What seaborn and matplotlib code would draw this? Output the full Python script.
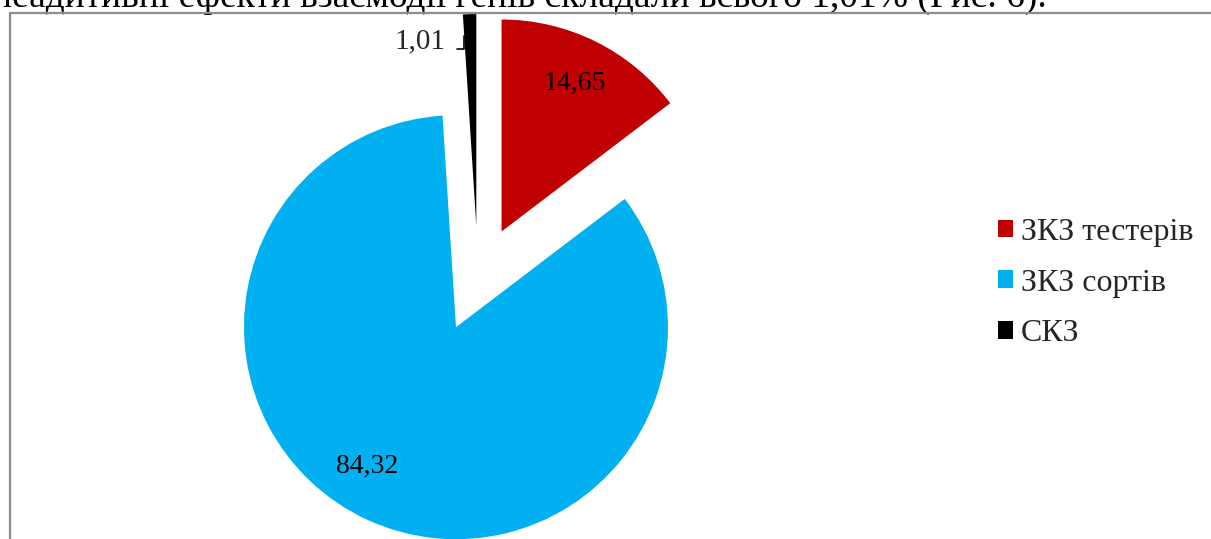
import matplotlib
matplotlib.use("Agg")
import matplotlib.pyplot as plt
import seaborn as sns
from matplotlib.patches import Rectangle
import numpy as np

# дані діаграми
categories = ['ЗКЗ тестерів', 'ЗКЗ сортів', 'СКЗ']
values = [14.65, 84.32, 1.01]
colors = ['#C00000', '#00B0F0', '#000000']
caption = 'неадитивні ефекти взаємодії генів складали всього 1,01% (Рис. 6).'

sns.set_theme(style='white')
plt.rcParams['font.family'] = ['Liberation Serif', 'DejaVu Serif']

W, H, DPI = 1211, 539, 100
fig = plt.figure(figsize=(W / DPI, H / DPI), dpi=DPI)
ax = fig.add_axes([0, 0, 1, 1])

R = 212.0              # радіус круга, px
cx, cy = 478.0, 279.0  # центр круга, px від верхнього лівого кута

vals = iter(values)
wedges, texts, autotexts = ax.pie(
    values, colors=sns.color_palette(colors), startangle=90, counterclock=False,
    explode=[0.25] * len(values), radius=1, center=(0, 0),
    autopct=lambda p: f'{next(vals):.2f}'.replace('.', ','),
    pctdistance=0.78, textprops=dict(fontsize=20, color='black'),
    wedgeprops=dict(linewidth=0))

ax.set_xlim(-cx / R, (W - cx) / R)
ax.set_ylim(-(H - cy) / R, cy / R)
ax.set_aspect('auto')
ax.axis('off')

# підпис синього сектора трохи зміщений, як в Excel
bw = wedges[1]
ang = np.deg2rad((bw.theta1 + bw.theta2) / 2 - 8)
autotexts[1].set_position((bw.center[0] + 0.78 * np.cos(ang), bw.center[1] + 0.78 * np.sin(ang)))

# підпис малого сектора винесено назовні з лінією-виноскою
kw = wedges[2]
edge = np.deg2rad(max(kw.theta1, kw.theta2))
xy = (kw.center[0] + 0.9 * np.cos(edge), kw.center[1] + 0.9 * np.sin(edge))
label = autotexts[2].get_text()
autotexts[2].set_visible(False)
ax.annotate(label, xy=xy, xytext=(-19, -13), textcoords='offset pixels',
            ha='right', va='baseline', fontsize=21,
            arrowprops=dict(arrowstyle='-', color='black', lw=1.2,
                            connectionstyle='angle,angleA=0,angleB=90,rad=0',
                            relpos=(1, 0.2), shrinkA=6, shrinkB=0))

leg = fig.legend(wedges, categories, loc='center left',
                 bbox_to_anchor=(998 / W, 1 - 283 / H), frameon=False,
                 fontsize=23, handlelength=0.47, handleheight=0.47,
                 handletextpad=0.25, labelspacing=0.68, borderpad=0, borderaxespad=0)

# рамка області діаграми
fig.add_artist(Rectangle((10.5 / W, -0.1), 1.2, 1.1 - 13 / H, transform=fig.transFigure,
                         fill=False, edgecolor='#8c8c8c', linewidth=1.6, zorder=5))

# рядок тексту документа над діаграмою (обрізаний зверху)
fig.text(1047 / W, 1 - 7 / H, caption, ha='right', va='baseline', fontsize=27, color='black')

fig.savefig('out.png', dpi=DPI)
